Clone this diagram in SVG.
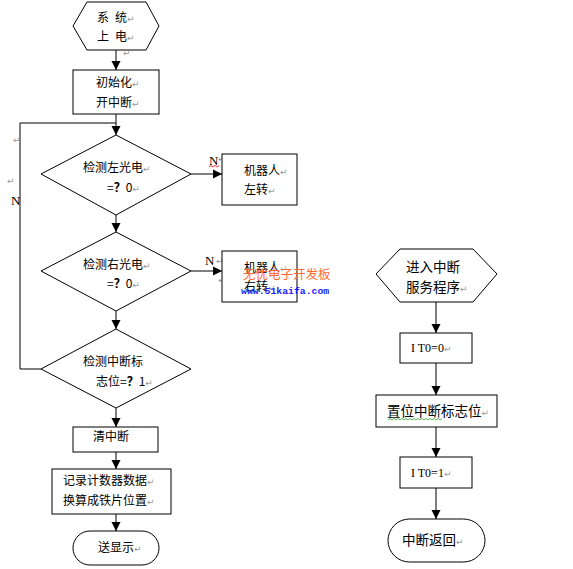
<svg xmlns="http://www.w3.org/2000/svg" width="573" height="569" viewBox="0 0 573 569">
<style>
.s{fill:#fff;stroke:#000;stroke-width:1}
.t{font-family:"Noto Sans CJK SC","Liberation Sans",sans-serif;font-size:12px;fill:#000}
.r{font-size:13.5px}
.l{font-family:"Liberation Serif","Noto Sans CJK SC",serif;font-size:12px;fill:#000}
.n{font-family:"Liberation Serif",serif;font-size:13px;fill:#000}
.p{font-family:"DejaVu Sans",sans-serif;font-size:9px;fill:#999}
.c{fill:none;stroke:#000;stroke-width:1}
</style>
<defs>
<marker id="a" viewBox="0 0 10 10" refX="10" refY="5" markerWidth="9" markerHeight="10" markerUnits="userSpaceOnUse" orient="auto">
<path d="M0,0 L10,5 L0,10 z" fill="#000"/>
</marker>
</defs>
<g id="connectors">
<path class="c" d="M116,50 V70" marker-end="url(#a)"/>
<path class="c" d="M116,114 V135" marker-end="url(#a)"/>
<path class="c" d="M41,369 H20 V123 H116"/>
<path class="c" d="M191,174 H222" marker-end="url(#a)"/>
<path class="c" d="M116,215 V232" marker-end="url(#a)"/>
<path class="c" d="M191,271 H222" marker-end="url(#a)"/>
<path class="c" d="M116,311 V329" marker-end="url(#a)"/>
<path class="c" d="M116,408 V427" marker-end="url(#a)"/>
<path class="c" d="M116,452 V469" marker-end="url(#a)"/>
<path class="c" d="M116,514 V531" marker-end="url(#a)"/>
<path class="c" d="M436,302 V333" marker-end="url(#a)"/>
<path class="c" d="M436,363 V395" marker-end="url(#a)"/>
<path class="c" d="M436,427 V457" marker-end="url(#a)"/>
<path class="c" d="M436,488 V519" marker-end="url(#a)"/>
<text class="n" x="209" y="165">N</text>
<path d="M209,167 l2,-1.5 l2,1.5 l2,-1.5 l2,1.5 l2,-1.5" fill="none" stroke="#e00" stroke-width="0.8"/>
<text class="p" x="218" y="162">↵</text>
<text class="n" x="205" y="265">N</text>
<text class="p" x="216" y="264">↵</text>
<text class="p" x="218" y="283">↵</text>
<text class="n" x="11" y="205">N</text>
<text class="p" x="13" y="143">↵</text>
<text class="p" x="7" y="184">↵</text>
</g>
<g id="start">
<polygon class="s" points="73,26 87,2 146,2 159,26 146,50 87,50"/>
<text class="t" x="97" y="22">系</text><text class="t" x="115" y="22">统</text><text class="p" x="127" y="22">↵</text>
<text class="t" x="97" y="41">上</text><text class="t" x="115" y="41">电</text><text class="p" x="127" y="41">↵</text>
<text class="p" x="123" y="56">↵</text>
</g>
<g id="init">
<rect class="s" x="73" y="70" width="86" height="44"/>
<text class="t" x="96" y="87">初始化<tspan class="p">↵</tspan></text>
<text class="t" x="96" y="107">开中断<tspan class="p">↵</tspan></text>
</g>
<g id="d1">
<polygon class="s" points="116,135 191,174 116,215 41,174"/>
<text class="t" x="83" y="172">检测左光电<tspan class="p">↵</tspan></text>
<text class="t" x="107" y="192">=<tspan font-weight="bold">？</tspan>0<tspan class="p">↵</tspan></text>
</g>
<g id="left">
<rect class="s" x="222" y="154" width="75" height="51"/>
<text class="t" x="244" y="175">机器人<tspan class="p">↵</tspan></text>
<text class="t" x="244" y="194">左转<tspan class="p">↵</tspan></text>
</g>
<g id="d2">
<polygon class="s" points="116,232 191,271 116,311 41,271"/>
<text class="t" x="83" y="269">检测右光电<tspan class="p">↵</tspan></text>
<text class="t" x="107" y="288">=<tspan font-weight="bold">？</tspan>0<tspan class="p">↵</tspan></text>
</g>
<g id="right">
<rect class="s" x="222" y="251" width="75" height="51"/>
<text class="t" x="244" y="272">机器人<tspan class="p">↵</tspan></text>
<text class="t" x="244" y="291">右转<tspan class="p">↵</tspan></text>
</g>
<g id="watermark">
<text x="243" y="279" font-family="Noto Sans CJK SC,sans-serif" font-size="12.5" fill="#ff6a33">无忧电子开发板</text>
<text x="241" y="294" font-family="Liberation Mono,monospace" font-size="9.8" font-weight="bold" fill="#1a1aff">www.51kaifa.com</text>
</g>
<g id="d3">
<polygon class="s" points="116,329 191,369 116,408 41,369"/>
<text class="t" x="83" y="366">检测中断标</text>
<text class="t" x="96" y="386">志位=<tspan font-weight="bold">？</tspan>1<tspan class="p">↵</tspan></text>
</g>
<g id="clear">
<rect class="s" x="73" y="427" width="85" height="25"/>
<text class="t" x="93" y="441">清中断</text>
</g>
<g id="record">
<rect class="s" x="52" y="469" width="119" height="45"/>
<text class="t" x="63" y="485">记录计数器数据<tspan class="p">↵</tspan></text>
<text class="t" x="63" y="505">换算成铁片位置<tspan class="p">↵</tspan></text>
</g>
<g id="display">
<rect class="s" x="73" y="531" width="86" height="34" rx="17"/>
<text class="t" x="98" y="552">送显示<tspan class="p">↵</tspan></text>
</g>
<g id="isr">
<polygon class="s" points="376,274 400,249 473,249 497,274 473,302 400,302"/>
<text class="t r" x="406" y="272">进入中断</text>
<text class="t r" x="406" y="292">服务程序<tspan class="p">↵</tspan></text>
</g>
<g id="it0">
<rect class="s" x="400" y="333" width="72" height="30"/>
<text class="l" x="411" y="352">I T0=0<tspan class="p">↵</tspan></text>
</g>
<g id="setflag">
<rect class="s" x="376" y="395" width="121" height="32"/>
<text class="t r" x="387" y="416">置位中断标志位<tspan class="p">↵</tspan></text>
<path d="M388,420 l2,-1.5 l2,1.5 l2,-1.5 l2,1.5 l2,-1.5 l2,1.5 l2,-1.5 l2,1.5 l2,-1.5 l2,1.5 l2,-1.5 l2,1.5 l2,-1.5 l2,1.5 l2,-1.5 l2,1.5 l2,-1.5 l2,1.5 l2,-1.5 l2,1.5 l2,-1.5 l2,1.5 l2,-1.5 l2,1.5 l2,-1.5 l2,1.5 l2,-1.5" fill="none" stroke="#3a3" stroke-width="0.8"/>
</g>
<g id="it1">
<rect class="s" x="400" y="457" width="72" height="31"/>
<text class="l" x="411" y="477">I T0=1<tspan class="p">↵</tspan></text>
</g>
<g id="ret">
<rect class="s" x="388" y="519" width="97" height="43" rx="21.5"/>
<text class="t r" x="402" y="545">中断返回<tspan class="p">↵</tspan></text>
</g>
</svg>
